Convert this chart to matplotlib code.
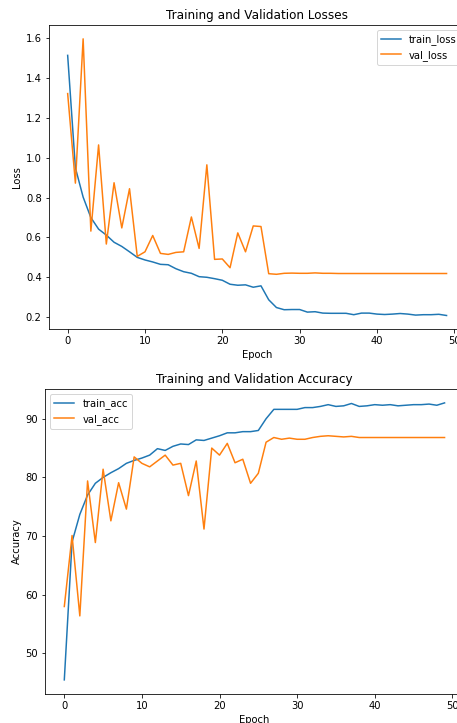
import matplotlib
matplotlib.use("Agg")
import matplotlib.pyplot as plt

epochs = list(range(50))

train_loss = [1.515, 0.95, 0.803, 0.70, 0.642, 0.612, 0.576, 0.555, 0.528, 0.50,
              0.487, 0.477, 0.465, 0.463, 0.443, 0.428, 0.42, 0.403, 0.40, 0.393,
              0.385, 0.365, 0.36, 0.362, 0.35, 0.357, 0.287, 0.248, 0.237, 0.238,
              0.238, 0.225, 0.227, 0.22, 0.219, 0.219, 0.219, 0.212, 0.22, 0.22,
              0.215, 0.213, 0.215, 0.218, 0.215, 0.21, 0.212, 0.212, 0.214, 0.208]
val_loss = [1.323, 0.873, 1.598, 0.632, 1.065, 0.567, 0.875, 0.648, 0.845, 0.505,
            0.528, 0.61, 0.52, 0.515, 0.525, 0.528, 0.703, 0.545, 0.965, 0.49,
            0.492, 0.448, 0.623, 0.528, 0.658, 0.655, 0.418, 0.415, 0.42, 0.421,
            0.42, 0.42, 0.422, 0.42, 0.42, 0.419, 0.419, 0.419, 0.419, 0.419,
            0.419, 0.419, 0.419, 0.419, 0.419, 0.419, 0.419, 0.419, 0.419, 0.419]

train_acc = [45.5, 69.0, 73.7, 77.0, 79.0, 80.0, 80.8, 81.5, 82.4, 82.9,
             83.3, 83.8, 84.9, 84.6, 85.3, 85.7, 85.6, 86.4, 86.3, 86.7,
             87.1, 87.6, 87.6, 87.8, 87.8, 88.0, 90.0, 91.6, 91.6, 91.6,
             91.6, 91.9, 91.9, 92.1, 92.4, 92.1, 92.2, 92.6, 92.1, 92.2,
             92.4, 92.3, 92.4, 92.2, 92.3, 92.4, 92.4, 92.5, 92.3, 92.7]
val_acc = [58.0, 70.1, 56.4, 79.4, 68.9, 81.4, 72.6, 79.1, 74.6, 83.5,
           82.4, 81.8, 82.8, 83.8, 82.1, 82.4, 76.9, 82.8, 71.2, 85.0,
           83.8, 85.8, 82.5, 83.1, 79.0, 80.7, 86.0, 86.8, 86.5, 86.7,
           86.5, 86.5, 86.8, 87.0, 87.1, 87.0, 86.9, 87.0, 86.8, 86.8,
           86.8, 86.8, 86.8, 86.8, 86.8, 86.8, 86.8, 86.8, 86.8, 86.8]

fig = plt.figure(figsize=(457 / 72, 723 / 72), dpi=72)

# both axes run past the right edge, as in the cropped original
ax1 = fig.add_axes([0.1066, 0.5445, 0.912, 0.4209])
ax1.plot(epochs, train_loss, label="train_loss")
ax1.plot(epochs, val_loss, label="val_loss")
ax1.set_title("Training and Validation Losses")
ax1.set_xlabel("Epoch")
ax1.set_ylabel("Loss")
ax1.legend(loc="upper right")

ax2 = fig.add_axes([0.0991, 0.0405, 0.9153, 0.4214])
ax2.plot(epochs, train_acc, label="train_acc")
ax2.plot(epochs, val_acc, label="val_acc")
ax2.set_title("Training and Validation Accuracy")
ax2.set_xlabel("Epoch")
ax2.set_ylabel("Accuracy")
ax2.legend(loc="upper left")

fig.savefig("out.png", dpi=72)
